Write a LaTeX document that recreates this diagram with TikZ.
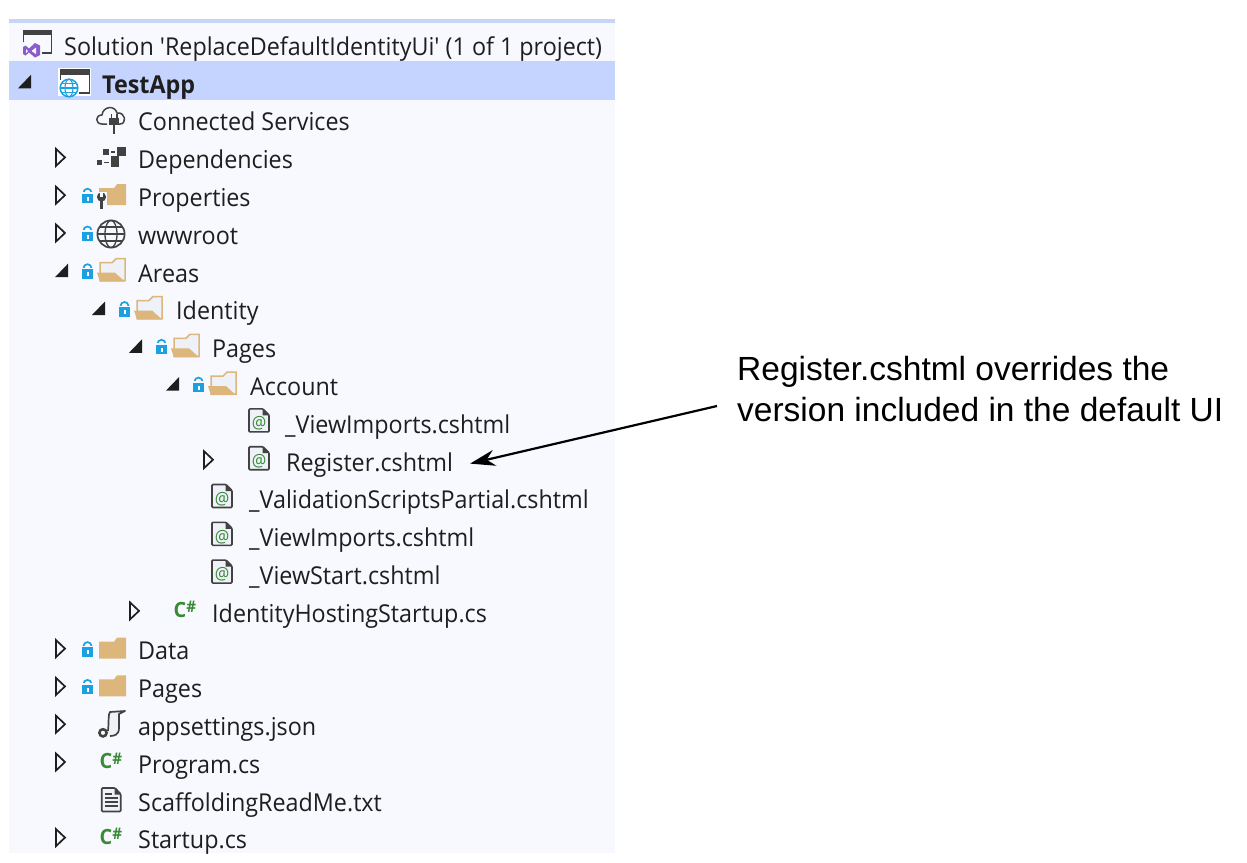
\documentclass[tikz,border=0pt]{standalone}
\usepackage{fontspec}
\setmainfont[FakeStretch=0.948, Ligatures=TeXOff]{Open Sans}
\newfontfamily\notefont{Liberation Sans}
\usetikzlibrary{arrows.meta}
\definecolor{panelbg}{HTML}{F7F9FE}
\definecolor{panelsel}{HTML}{C5D4FE}
\definecolor{panelband}{HTML}{C9D5F5}
\definecolor{inktext}{HTML}{1E1E1E}
\definecolor{icongray}{HTML}{424242}
\definecolor{iconfill}{HTML}{EEF1F8}
\definecolor{foldertan}{HTML}{DCB67A}
\definecolor{lockblue}{HTML}{1BA1E2}
\definecolor{csgreen}{HTML}{388A34}
\definecolor{vspurple}{HTML}{8A5CC9}
\tikzset{
  row/.style={anchor=base west, inner sep=0pt, yshift=-1.3pt, text=inktext, font=\fontsize{24.6}{28}\selectfont},
  note/.style={anchor=west, inner sep=0pt, align=left, font=\notefont\fontsize{33.5}{41}\selectfont},
  pointer/.style={-{Stealth[length=25pt, width=16pt, inset=8pt]}, line width=2.2pt},
  pics/expanded/.style={code={\fill[inktext] (0,-3.5) -- (13,-3.5) -- (13,-17) -- cycle;}},
  pics/collapsed/.style={code={\draw[inktext, line width=1.7pt, fill=panelbg, line join=miter] (1,-18.5) -- (1,-1.5) -- (10,-10) -- cycle;}},
  pics/lockicon/.style={code={
    \fill[lockblue] (0,-11.5) rectangle (11,-2);
    \fill[white] (4.5,-8.5) rectangle (6.5,-4.5);
    \draw[lockblue, line width=1.7pt] (1.5,-12) -- (1.5,-12.5) arc[start angle=180, end angle=360, radius=4] -- (9.5,-12);
    \fill[panelbg] (0,-13) rectangle (11,-11.6);
  }},
  pics/folderclosed/.style={code={
    \fill[foldertan] (0,-17) -- (15,-17) -- (18,-21) -- (27,-21) -- (27,0) -- (0,0) -- cycle;
  }},
  pics/folderopen/.style={code={
    \draw[foldertan, line width=1.5pt, fill=iconfill] (3,-18) -- (15,-18) -- (19,-22) -- (28,-22) -- (28,0) -- (3,0) -- cycle;
    \fill[foldertan] (0,-8) -- (18,-8) -- (28,1) -- (3,1) -- cycle;
  }},
  pics/fileicon/.style={code={
    \draw[icongray, line width=1.6pt, fill=iconfill, rounded corners=1pt] (0,-23) -- (14,-23) -- (20,-17) -- (20,0) -- (0,0) -- cycle;
    \fill[icongray] (13.5,-23) -- (20,-16.5) -- (13.5,-16.5) -- cycle;
    \node[text=csgreen, inner sep=0pt, font=\fontsize{17}{17}\selectfont] (-glyph) at (10,-8.5) {@};
  }},
  pics/csicon/.style={code={
    \node[anchor=base west, inner sep=0pt, text=csgreen, font=\bfseries\fontsize{21}{21}\selectfont] (-glyph) at (-0.5,-3.5) {C\raisebox{4.5pt}{\fontsize{16}{16}\selectfont\#}};
  }},
}
\begin{document}
\begin{tikzpicture}[x=1pt, y=-1pt]
\useasboundingbox (0,0) rectangle (1247,862);
% Panel
    \fill[panelbg] (9,19) rectangle (615,853);
    \fill[panelband] (9,19) rectangle (615,23);
    \fill[panelsel] (9,61) rectangle (615,100);
% Solution icon
    \draw[icongray, line width=1.5pt] (23.7,42) -- (23.7,31) -- (51.5,31) -- (51.5,53) -- (42,53);
    \fill[icongray] (23,29.5) rectangle (52,35);
    \fill[vspurple] (23,47) -- (25.5,45.5) -- (29,48.5) -- (35,43) -- (40,45.5) -- (40,55) -- (35,57.5) -- (29,52.5) -- (25.5,55.5) -- (23,54) -- cycle;
    \fill[panelbg] (26,49) -- (28,51) -- (26,53) -- cycle;
    \fill[panelbg] (31.5,51) -- (36,47.5) -- (36,54) -- cycle;
% Project icon
    \fill[white] (58,68) rectangle (91,96);
    \draw[icongray, line width=1.5pt] (60.7,80) -- (60.7,70) -- (89.3,70) -- (89.3,93) -- (79,93);
    \fill[icongray] (60,69) rectangle (90,75);
    \draw[lockblue, line width=1.5pt, fill=white] (69,88) circle(8.8);
    \draw[lockblue, line width=1.1pt] (69,88) ellipse (4 and 8.8);
    \draw[lockblue, line width=1.1pt] (60.2,88) -- (77.8,88);
    \draw[lockblue, line width=1.1pt] (61.5,83.5) -- (76.5,83.5);
    \draw[lockblue, line width=1.1pt] (61.5,92.5) -- (76.5,92.5);
% Connected services icon
    \draw[icongray, line width=1.5pt, line join=round] (107,124) -- (102,124) .. controls (95,124) and (95,115) .. (102,115) .. controls (103,106) and (115,105) .. (117,113) .. controls (126,112) and (127,124) .. (120,124) -- (119,124);
    \fill[icongray] (109,118) rectangle (119,125);
    \fill[icongray] (113,125) rectangle (115,134);
    \fill[icongray] (110.5,114) rectangle (112,118);
    \fill[icongray] (116,114) rectangle (117.5,118);
% Dependencies icon
    \fill[icongray] (103,149) rectangle (109,154.5);
    \fill[icongray] (117,147) rectangle (126,156);
    \fill[icongray] (97,159.5) rectangle (102,165);
    \fill[icongray] (111,156) rectangle (119,167);
    \fill[icongray] (111,151) rectangle (115,152.5);
    \fill[icongray] (103.5,161.5) rectangle (108.5,163);
% Wrench and globe icons
    \pic at (99,205.2) {folderclosed};
    \fill[panelbg] (96,192) rectangle (107,210);
    \fill[icongray] (101.5,197) circle(4.6);
    \fill[panelbg] (100,191.5) rectangle (103,196.5);
    \fill[icongray] (100,198) rectangle (103.2,209);
    \draw[icongray, line width=1.7pt] (111,234) circle(13.6);
    \draw[icongray, line width=1.3pt] (111,234) ellipse (6 and 13.6);
    \draw[icongray, line width=1.3pt] (97.4,234) -- (124.6,234);
    \draw[icongray, line width=1.3pt] (99.5,227) -- (122.5,227);
    \draw[icongray, line width=1.3pt] (99.5,241) -- (122.5,241);
% Scroll icon
    \draw[icongray, line width=1.7pt, fill=iconfill, line join=round] (108,731) .. controls (109,722) and (108,714) .. (110,712) -- (125,711) -- (119,714) -- (119,728) .. controls (119,735) and (114,736) .. (110,736);
    \draw[icongray, line width=2.6pt, fill=white] (103,732.8) circle(3.6);
% Text file icon
    \draw[icongray, line width=1.6pt, fill=iconfill, rounded corners=1pt] (101.7,788) -- (115,788) -- (120.7,794) -- (120.7,811.5) -- (101.7,811.5) -- cycle;
    \fill[icongray] (114.5,788) -- (120.7,794.5) -- (114.5,794.5) -- cycle;
    \draw[icongray, line width=1.3pt] (105,794) -- (112,794);
    \draw[icongray, line width=1.3pt] (105,798) -- (117.5,798);
    \draw[icongray, line width=1.3pt] (105,802) -- (117.5,802);
    \draw[icongray, line width=1.3pt] (105,806) -- (117.5,806);
% Expanders
    \pic at (18,91.8) {expanded};
    \pic at (55,280.7) {expanded};
    \pic at (92,318.5) {expanded};
    \pic at (129,356.3) {expanded};
    \pic at (166,394.1) {expanded};
    \pic at (55,167.4) {collapsed};
    \pic at (55,205.2) {collapsed};
    \pic at (55,243) {collapsed};
    \pic at (203,469.7) {collapsed};
    \pic at (129,620.9) {collapsed};
    \pic at (55,658.6) {collapsed};
    \pic at (55,696.4) {collapsed};
    \pic at (55,734.2) {collapsed};
    \pic at (55,772) {collapsed};
    \pic at (55,847.6) {collapsed};
% Locks
    \pic at (82,205.2) {lockicon};
    \pic at (82,243) {lockicon};
    \pic at (82,280.7) {lockicon};
    \pic at (119,318.5) {lockicon};
    \pic at (156,356.3) {lockicon};
    \pic at (193,394.1) {lockicon};
    \pic at (82,658.6) {lockicon};
    \pic at (82,696.4) {lockicon};
% Folders
    \pic at (97,280.7) {folderopen};
    \pic at (134,318.5) {folderopen};
    \pic at (171,356.3) {folderopen};
    \pic at (208,394.1) {folderopen};
    \pic at (99,658.6) {folderclosed};
    \pic at (99,696.4) {folderclosed};
% Files
    \pic (viewimportsa) at (249,431.9) {fileicon};
    \pic (registerfile) at (249,469.7) {fileicon};
    \pic (validation) at (212,507.5) {fileicon};
    \pic (viewimportsb) at (212,545.3) {fileicon};
    \pic (viewstart) at (212,583.1) {fileicon};
    \pic (hostingcs) at (174,620.9) {csicon};
    \pic (programcs) at (100,772) {csicon};
    \pic (startupcs) at (100,847.6) {csicon};
% Labels
    \node[row] (solution) at (64,54) {Solution 'ReplaceDefaultIdentityUi' (1 of 1 project)};
    \node[row, font=\bfseries\fontsize{24.6}{28}\selectfont] (testapp) at (102,91.8) {TestApp};
    \node[row] (connected) at (138,129.6) {Connected Services};
    \node[row] (dependencies) at (138,167.4) {Dependencies};
    \node[row] (properties) at (138,205.2) {Properties};
    \node[row] (wwwroot) at (138,243) {wwwroot};
    \node[row] (areas) at (138,280.7) {Areas};
    \node[row] (identity) at (176,318.5) {Identity};
    \node[row] (pages) at (212,356.3) {Pages};
    \node[row] (account) at (250,394.1) {Account};
    \node[row] (viewimportslabel) at (285,431.9) {\_ViewImports.cshtml};
    \node[row] (register) at (286,469.7) {Register.cshtml};
    \node[row] (validationlabel) at (249,507.5) {\_ValidationScriptsPartial.cshtml};
    \node[row] (importslabel) at (249,545.3) {\_ViewImports.cshtml};
    \node[row] (startlabel) at (249,583.1) {\_ViewStart.cshtml};
    \node[row] (hosting) at (212,620.9) {IdentityHostingStartup.cs};
    \node[row] (data) at (138,658.6) {Data};
    \node[row] (rootpages) at (138,696.4) {Pages};
    \node[row] (appsettings) at (138,734.2) {appsettings.json};
    \node[row] (program) at (138,772) {Program.cs};
    \node[row] (readme) at (138,809.8) {ScaffoldingReadMe.txt};
    \node[row] (startup) at (138,847.6) {Startup.cs};
% Note
    \node[note] (override) at (737,389) {Register.cshtml overrides the\\version included in the default UI};
    \draw[pointer] ([xshift=-20pt, yshift=-17pt]override.west) -- ([xshift=17pt, yshift=1pt]register.east);
\end{tikzpicture}
\end{document}
